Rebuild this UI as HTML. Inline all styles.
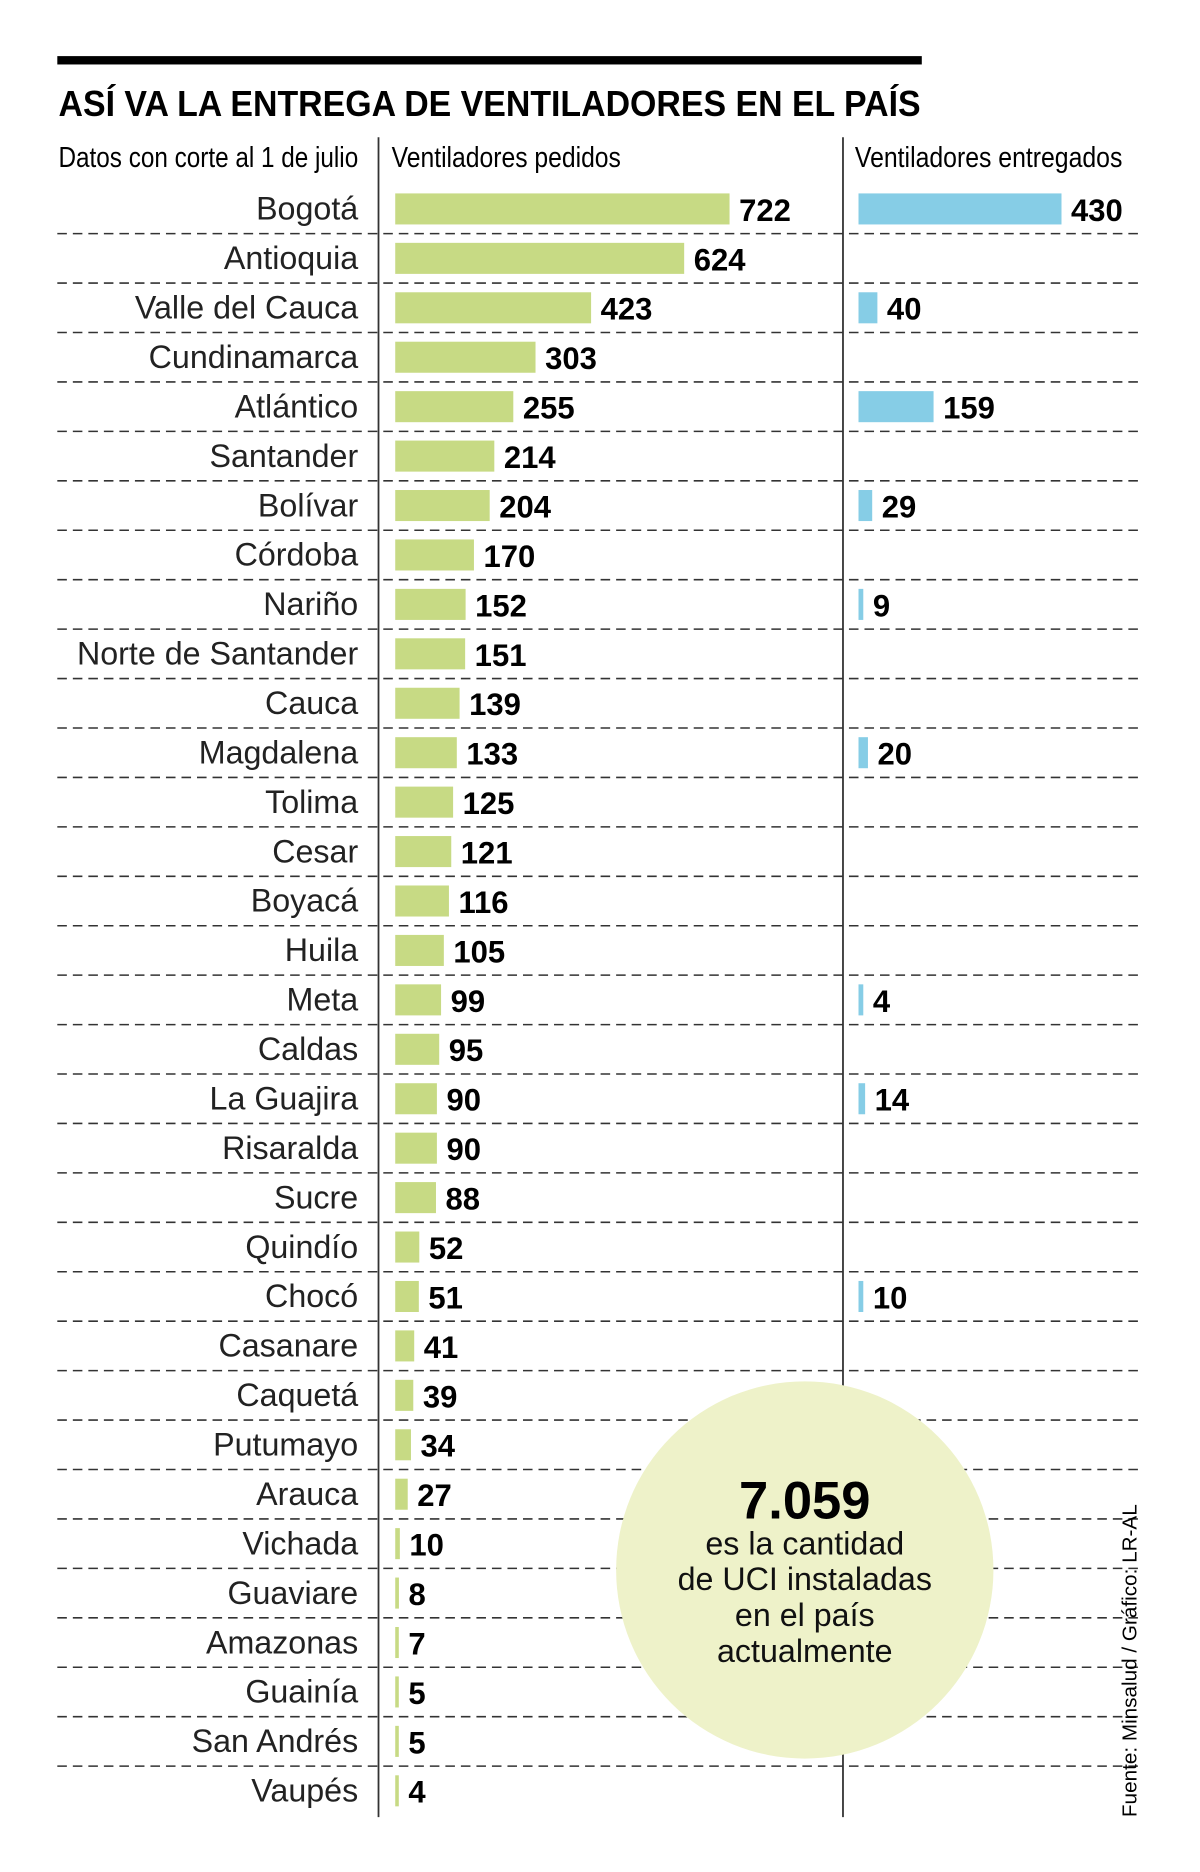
<!DOCTYPE html>
<html><head><meta charset="utf-8"><style>
html,body{margin:0;padding:0;background:#fff;}
svg{display:block;font-family:"Liberation Sans",sans-serif;}
</style></head><body>
<svg id="chart" width="1200" height="1872" viewBox="0 0 1005 1568" preserveAspectRatio="none" xmlns="http://www.w3.org/2000/svg">
<rect x="48" y="47" width="724" height="7" fill="#000"/>
<text x="49" y="97" font-size="30" font-weight="bold" textLength="722" lengthAdjust="spacingAndGlyphs">ASÍ VA LA ENTREGA DE VENTILADORES EN EL PAÍS</text>
<text x="49" y="140" font-size="24" textLength="251" lengthAdjust="spacingAndGlyphs">Datos con corte al 1 de julio</text>
<text x="328" y="140" font-size="24" textLength="192" lengthAdjust="spacingAndGlyphs">Ventiladores pedidos</text>
<text x="716" y="140" font-size="24" textLength="224" lengthAdjust="spacingAndGlyphs">Ventiladores entregados</text>
<line x1="317" y1="115" x2="317" y2="1522" stroke="#333" stroke-width="1.5"/>
<line x1="706" y1="115" x2="706" y2="1522" stroke="#333" stroke-width="1.5"/>
<g id="rows"></g>
<circle cx="674" cy="1315" r="158" fill="#eef2c9"/>
<text x="674" y="1272" font-size="44" font-weight="bold" text-anchor="middle">7.059</text>
<g font-size="27" text-anchor="middle" fill="#111">
<text x="674" y="1302">es la cantidad</text>
<text x="674" y="1332">de UCI instaladas</text>
<text x="674" y="1362">en el país</text>
<text x="674" y="1392">actualmente</text>
</g>
<text transform="translate(952,1522) rotate(-90)" font-size="17" textLength="262" lengthAdjust="spacingAndGlyphs">Fuente: Minsalud / Gráfico: LR-AL</text>
</svg>
<script>
const regions=["Bogotá","Antioquia","Valle del Cauca","Cundinamarca","Atlántico","Santander","Bolívar","Córdoba","Nariño","Norte de Santander","Cauca","Magdalena","Tolima","Cesar","Boyacá","Huila","Meta","Caldas","La Guajira","Risaralda","Sucre","Quindío","Chocó","Casanare","Caquetá","Putumayo","Arauca","Vichada","Guaviare","Amazonas","Guainía","San Andrés","Vaupés"];
const requested=[722,624,423,303,255,214,204,170,152,151,139,133,125,121,116,105,99,95,90,90,88,52,51,41,39,34,27,10,8,7,5,5,4];
const delivered=[430,null,40,null,159,null,29,null,9,null,null,20,null,null,null,null,4,null,14,null,null,null,10,null,null,null,null,null,null,null,null,null,null];
const NS="http://www.w3.org/2000/svg";
const g=document.getElementById('rows');
const y0=175, step=(1500-175)/(regions.length-1);
const xReq=v=>v*280/722, xDel=v=>v*170/430;
function mk(t,a){const e=document.createElementNS(NS,t);for(const k in a)e.setAttribute(k,a[k]);g.appendChild(e);return e;}
regions.forEach((r,i)=>{
  const cy=y0+i*step;
  if(i<regions.length-1){
    const ln=mk('line',{x1:48,x2:958,y1:cy+step/2,y2:cy+step/2,stroke:'#333','stroke-width':1.3,'stroke-dasharray':'8 5'});
    
    
  }
  const lab=mk('text',{x:300,y:cy+9,'font-size':27,'text-anchor':'end',fill:'#222'});
  lab.textContent=r;
  
  
  const w=Math.max(xReq(requested[i]),3);
  const b=mk('rect',{x:331,y:cy-13,width:w,height:26,fill:'#c7da84'});
  
  
  const v=mk('text',{x:331+w+8,y:cy+10,'font-size':26,'font-weight':'bold'});
  v.textContent=requested[i];
  
  
  if(delivered[i]!=null){
    const dw=Math.max(xDel(delivered[i]),4);
    const d=mk('rect',{x:719,y:cy-13,width:dw,height:26,fill:'#86cde6'});
    
    
    const dv=mk('text',{x:719+dw+8,y:cy+10,'font-size':26,'font-weight':'bold'});
    dv.textContent=delivered[i];
    
    
  }
});
</script>
</body></html>
